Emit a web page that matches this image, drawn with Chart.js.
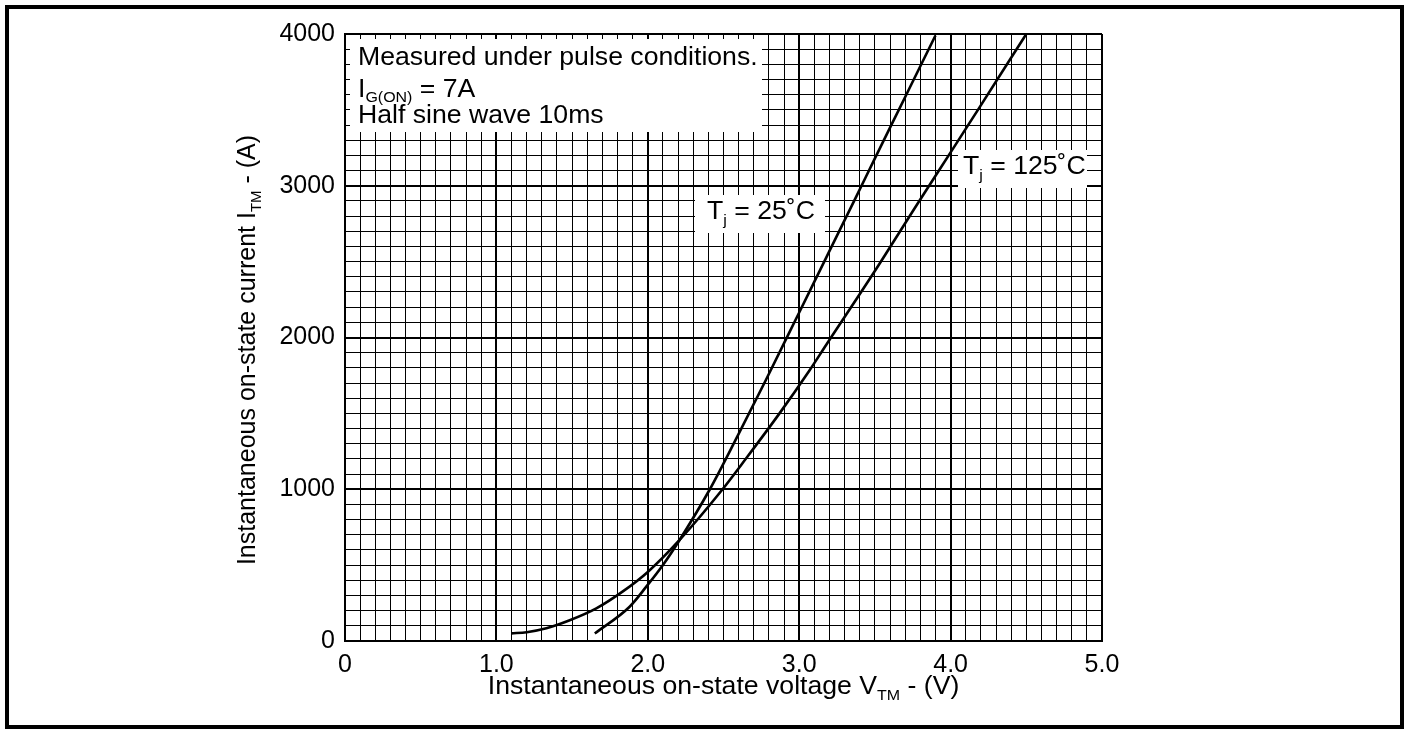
<!DOCTYPE html>
<html><head><meta charset="utf-8">
<script src="https://cdn.jsdelivr.net/npm/chart.js@4"></script>
<style>
html,body{margin:0;padding:0;background:#fff;}
#wrap{position:relative;width:1411px;height:734px;overflow:hidden;background:#fff;}
#frame{position:absolute;left:5px;top:5px;width:1391px;height:716px;border:4px solid #000;pointer-events:none;}
canvas{position:absolute;left:0;top:0;}
</style></head>
<body>
<div id="wrap"><canvas id="c" width="1411" height="734"></canvas><div id="frame"></div></div>
<script>
// ---- data ----
const voltage25  = [1.65, 1.88, 1.99, 2.10, 2.21, 2.41, 2.59, 2.78, 3.00, 3.18, 3.38, 3.50, 3.70, 3.90];
const current25  = [50,   226,  358,  501,  666,  1000, 1345, 1720, 2165, 2530, 2935, 3180, 3585, 3990];
const voltage125 = [1.10, 1.20, 1.33, 1.48, 1.66, 1.84, 2.00, 2.21, 2.49, 2.65, 2.87, 3.07, 3.18, 3.49, 3.79, 4.00, 4.19, 4.50];
const current125 = [50,   58,   84,   135,  215,  330,  455,  666,  995,  1204, 1500, 1786, 1954, 2423, 2895, 3220, 3515, 4000];
const xTickLabels = ['0', '1.0', '2.0', '3.0', '4.0', '5.0'];
const yTickLabels = ['0', '1000', '2000', '3000', '4000'];

const FONT = '"Liberation Sans", Arial, Helvetica, sans-serif';
const MAIN = 25, SUB = 15, SUBDY = 6, SX = 1.065;

function richWidth(ctx, parts) {
  let w = 0;
  for (const p of parts) { ctx.font = (p.sub ? SUB : MAIN) + 'px ' + FONT; w += ctx.measureText(p.t).width; }
  return w;
}
function drawRich(ctx, parts, x, y, sx, subdy) {
  const s = sx || 1, dy = (subdy === undefined) ? SUBDY : subdy;
  ctx.save();
  ctx.translate(x, y);
  ctx.scale(s, 1);
  let cx = 0;
  ctx.textAlign = 'left'; ctx.textBaseline = 'alphabetic'; ctx.fillStyle = '#000';
  for (const p of parts) {
    ctx.font = (p.sub ? SUB : MAIN) + 'px ' + FONT;
    ctx.fillText(p.t, cx, p.sub ? dy : 0);
    cx += ctx.measureText(p.t).width;
  }
  ctx.restore();
}

const annot = {
  id: 'annot',
  beforeDatasetsDraw(chart) {
    const ctx = chart.ctx, a = chart.chartArea;
    const L = a.left, T = a.top;
    ctx.save();
    ctx.fillStyle = '#fff';
    // top-left conditions box
    ctx.fillRect(L + 5, T + 5, 412, 93);
    // Tj = 25 box
    ctx.fillRect(L + 350, T + 161, 130, 38);
    // Tj = 125 box
    ctx.fillRect(L + 613, T + 116, 129, 38);
    ctx.restore();
    drawRich(ctx, [{t: 'Measured under pulse conditions.'}], L + 13, T + 31, SX);
    drawRich(ctx, [{t: 'I'}, {t: 'G(ON)', sub: true}, {t: ' = 7A'}], L + 13, T + 63, SX, 5);
    drawRich(ctx, [{t: 'Half sine wave 10ms'}], L + 13, T + 89, SX);
    drawRich(ctx, [{t: 'T'}, {t: 'j', sub: true}, {t: ' = 25\u02DAC'}], L + 362, T + 185, SX);
    drawRich(ctx, [{t: 'T'}, {t: 'j', sub: true}, {t: ' = 125\u02DAC'}], L + 618, T + 140, SX);
  },
  afterDraw(chart) {
    const ctx = chart.ctx, a = chart.chartArea;
    // x axis title
    const xt = [{t: 'Instantaneous on-state voltage V'}, {t: 'TM', sub: true}, {t: ' - (V)'}];
    const xw = richWidth(ctx, xt) * SX;
    drawRich(ctx, xt, (a.left + a.right) / 2 - xw / 2, 694, SX);
    // y axis title
    const yt = [{t: 'Instantaneous on-state current I'}, {t: 'TM', sub: true}, {t: ' - (A)'}];
    const yw = richWidth(ctx, yt);
    ctx.save();
    ctx.translate(255, 350);
    ctx.rotate(-Math.PI / 2);
    drawRich(ctx, yt, -yw / 2, 0, 1);
    ctx.restore();
  }
};

function isMajorX(v) { return Math.abs(v - Math.round(v)) < 1e-6; }
function isMajorY(v) { return Math.abs(v / 1000 - Math.round(v / 1000)) < 1e-6; }

new Chart(document.getElementById('c'), {
  type: 'scatter',
  data: {
    datasets: [
      { label: 'Tj = 25', data: voltage25.map((v, i) => ({x: v, y: current25[i]})),
        showLine: true, borderColor: '#000', borderWidth: 2.6, pointRadius: 0, fill: false,
        cubicInterpolationMode: 'monotone' },
      { label: 'Tj = 125', data: voltage125.map((v, i) => ({x: v, y: current125[i]})),
        showLine: true, borderColor: '#000', borderWidth: 2.6, pointRadius: 0, fill: false,
        cubicInterpolationMode: 'monotone' }
    ]
  },
  options: {
    responsive: false, animation: false, devicePixelRatio: 1,
    layout: { padding: { top: 34, right: 309, bottom: 0, left: 0 } },
    plugins: { legend: { display: false }, tooltip: { enabled: false } },
    scales: {
      x: {
        type: 'linear', min: 0, max: 5,
        afterFit(s) { s.height = 93; },
        ticks: {
          stepSize: 0.1, autoSkip: false, maxRotation: 0, minRotation: 0, padding: 9,
          color: '#000', font: { family: FONT, size: 25 },
          callback(v) { return isMajorX(v) ? xTickLabels[Math.round(v)] : ''; }
        },
        grid: { color: '#000', drawTicks: false,
          lineWidth: c => (c.tick && isMajorX(c.tick.value)) ? 2 : 1 },
        border: { color: '#000', width: 2 }
      },
      y: {
        type: 'linear', min: 0, max: 4000,
        afterFit(s) { s.width = 345; },
        ticks: {
          stepSize: 100, autoSkip: false, padding: 10,
          color: '#000', font: { family: FONT, size: 25 },
          callback(v) { return isMajorY(v) ? yTickLabels[Math.round(v / 1000)] : ''; }
        },
        grid: { color: '#000', drawTicks: false,
          lineWidth: c => (c.tick && isMajorY(c.tick.value)) ? 2 : 1 },
        border: { color: '#000', width: 2 }
      }
    }
  },
  plugins: [annot]
});
</script>
</body></html>
